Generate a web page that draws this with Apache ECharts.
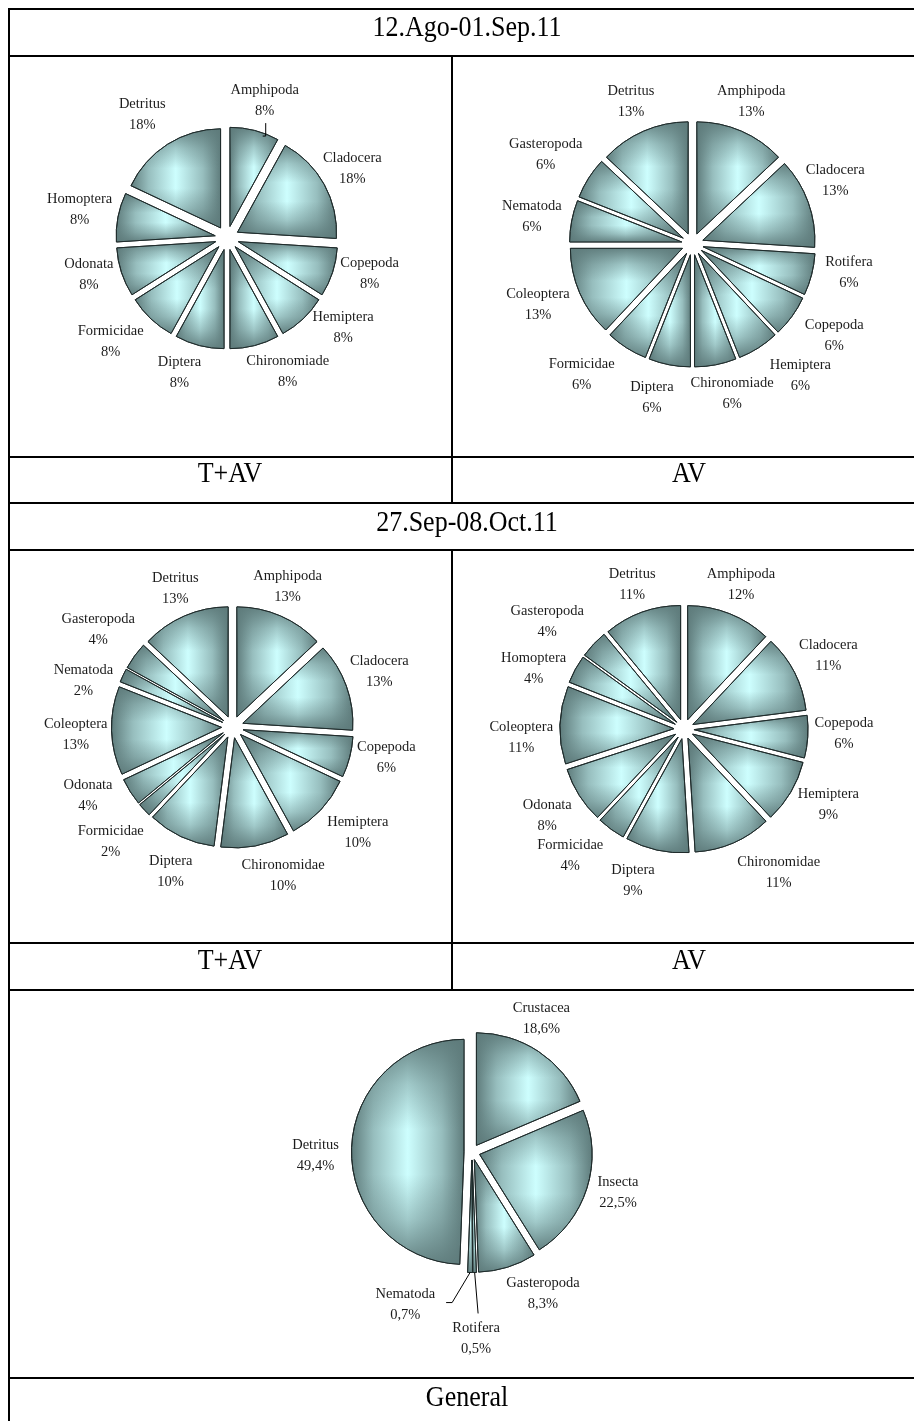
<!DOCTYPE html>
<html>
<head>
<meta charset="utf-8">
<script src="https://cdn.jsdelivr.net/npm/echarts@6/dist/echarts.min.js"></script>
<style>
  html, body { margin: 0; padding: 0; background: #ffffff; }
  #c { width: 914px; height: 1421px; }
</style>
</head>
<body>
<div id="c"></div>
<script>
// ---- Diet composition (%) per sampling period and group ----

// 12.Ago-01.Sep.11, T+AV
const p1TavNames  = ['Amphipoda', 'Cladocera', 'Copepoda', 'Hemiptera', 'Chironomiade', 'Diptera', 'Formicidae', 'Odonata', 'Homoptera', 'Detritus'];
const p1TavValues = [8, 18, 8, 8, 8, 8, 8, 8, 8, 18];

// 12.Ago-01.Sep.11, AV
const p1AvNames  = ['Amphipoda', 'Cladocera', 'Rotifera', 'Copepoda', 'Hemiptera', 'Chironomiade', 'Diptera', 'Formicidae', 'Coleoptera', 'Nematoda', 'Gasteropoda', 'Detritus'];
const p1AvValues = [13, 13, 6, 6, 6, 6, 6, 6, 13, 6, 6, 13];

// 27.Sep-08.Oct.11, T+AV
const p2TavNames  = ['Amphipoda', 'Cladocera', 'Copepoda', 'Hemiptera', 'Chironomidae', 'Diptera', 'Formicidae', 'Odonata', 'Coleoptera', 'Nematoda', 'Gasteropoda', 'Detritus'];
const p2TavValues = [13, 13, 6, 10, 10, 10, 2, 4, 13, 2, 4, 13];

// 27.Sep-08.Oct.11, AV
const p2AvNames  = ['Amphipoda', 'Cladocera', 'Copepoda', 'Hemiptera', 'Chironomidae', 'Diptera', 'Formicidae', 'Odonata', 'Coleoptera', 'Homoptera', 'Gasteropoda', 'Detritus'];
const p2AvValues = [12, 11, 6, 9, 11, 9, 4, 8, 11, 4, 4, 11];

// General
const generalNames  = ['Crustacea', 'Insecta', 'Gasteropoda', 'Rotifera', 'Nematoda', 'Detritus'];
const generalValues = [18.6, 22.5, 8.3, 0.5, 0.7, 49.4];

// Table captions
const periodTitles = ['12.Ago-01.Sep.11', '27.Sep-08.Oct.11'];
const groupTitles  = ['T+AV', 'AV'];
const generalTitle = 'General';

// ---- Styling ----
const SERIF = '"Liberation Serif", "Times New Roman", serif';
const EDGE = '#1f2b2b';
const DARK = '#5e7b7b';
const LIGHT = '#cdfefe';

// Each slice: bright cyan core fading to grey-teal at the edges of its box.
const fillH = new echarts.graphic.LinearGradient(0, 0, 1, 0, [
  { offset: 0, color: DARK },
  { offset: 0.2, color: '#97bebe' },
  { offset: 0.5, color: LIGHT },
  { offset: 0.8, color: '#97bebe' },
  { offset: 1, color: DARK }
]);
const fillV = new echarts.graphic.LinearGradient(0, 0, 0, 1, [
  { offset: 0, color: 'rgba(94,123,123,0.95)' },
  { offset: 0.2, color: 'rgba(94,123,123,0.4)' },
  { offset: 0.4, color: 'rgba(94,123,123,0)' },
  { offset: 0.6, color: 'rgba(94,123,123,0)' },
  { offset: 0.8, color: 'rgba(94,123,123,0.4)' },
  { offset: 1, color: 'rgba(94,123,123,0.95)' }
]);

function fmtPct(v, dec) {
  return v.toFixed(dec).replace('.', ',') + '%';
}

// Mid angle of every slice, degrees clockwise from 12 o'clock
function midAngles(values) {
  const total = values.reduce((a, b) => a + b, 0);
  let acc = 0;
  return values.map(v => {
    const m = (acc + v / 2) / total * 360;
    acc += v;
    return m;
  });
}

// One exploded pie = two shaded layers (horizontal + vertical shading, both
// pulled out from the centre) and a transparent, unexploded layer carrying the labels.
function makePie(names, values, geo, dec, nudges) {
  const mids = midAngles(values);
  const common = {
    type: 'pie',
    center: geo.center,
    radius: geo.r,
    startAngle: 90,
    clockwise: true,
    minAngle: 0,
    avoidLabelOverlap: false,
    animation: false,
    emphasis: { disabled: true },
    tooltip: { show: false }
  };
  const exploded = {
    selectedMode: 'multiple',
    selectedOffset: geo.offset,
    label: { show: false },
    labelLine: { show: false }
  };
  const shadeH = Object.assign({}, common, exploded, {
    z: 2,
    itemStyle: { color: fillH, borderColor: EDGE, borderWidth: 1 },
    select: { itemStyle: { color: fillH, borderColor: EDGE, borderWidth: 1 } },
    data: names.map((n, i) => ({ name: n, value: values[i], selected: true }))
  });
  const shadeV = Object.assign({}, common, exploded, {
    z: 3,
    itemStyle: { color: fillV, borderColor: EDGE, borderWidth: 1 },
    select: { itemStyle: { color: fillV, borderColor: EDGE, borderWidth: 1 } },
    data: names.map((n, i) => ({ name: n, value: values[i], selected: true }))
  });
  const labels = Object.assign({}, common, {
    z: 4,
    selectedMode: false,
    itemStyle: { color: 'rgba(0,0,0,0)', borderWidth: 0 },
    label: {
      show: true,
      position: 'outside',
      fontFamily: SERIF,
      fontSize: 14.5,
      lineHeight: 21,
      color: '#1c1c1c',
      align: 'center',
      formatter: p => p.name + '\n' + fmtPct(p.value, dec)
    },
    labelLine: { show: false, length: 6, length2: 6, lineStyle: { color: '#000', width: 1 } },
    labelLayout: function (p) {
      const i = p.dataIndex;
      const t = nudges[names[i]] || {};
      const cx = geo.center[0], cy = geo.center[1];
      const ang = (mids[i] + (t.da || 0)) * Math.PI / 180;
      const dist = geo.r + geo.offset + geo.gap + (t.dr || 0);
      const x = cx + dist * Math.sin(ang);
      const y = cy - dist * Math.cos(ang);
      const out = { x: x, y: y, align: 'center', verticalAlign: 'middle' };
      if (t.lead) {
        const a0 = mids[i] * Math.PI / 180;
        const re = geo.r + geo.offset;
        const sx = cx + re * Math.sin(a0);
        const sy = cy - re * Math.cos(a0);
        const w = p.labelRect.width;
        const h = p.labelRect.height;
        if (t.lead === 'side') {
          // leader enters from the right of the label
          const ex = x + w / 2 + 11;
          const ey = y - 2;
          out.labelLinePoints = [[sx, sy], [ex + 6, ey], [ex, ey]];
        } else if (t.lead === 'top') {
          // leader enters from above the label
          const ex = x + 2;
          const ey = y - h / 2 - 4;
          out.labelLinePoints = [[sx, sy], [ex, ey], [ex, ey]];
        } else {
          // short tick dropping from the label onto the slice's rim
          const ox = geo.offset * Math.sin(a0);
          const oy = -geo.offset * Math.cos(a0);
          const lx = x + 1;
          const dxh = lx - (cx + ox);
          const ey = cy + oy - Math.sqrt(Math.max(0, geo.r * geo.r - dxh * dxh)) + 2;
          const top = y + h / 2 + 1;
          out.labelLinePoints = [[lx - 3, ey], [lx, ey], [lx, top]];
        }
      }
      return out;
    },
    data: names.map((n, i) => {
      const item = { name: n, value: values[i] };
      if (nudges[n] && nudges[n].lead) item.labelLine = { show: true };
      return item;
    })
  });
  return [shadeH, shadeV, labels];
}

// Label placement adjustments (degrees / pixels) per slice
const p1TavNudge = {
  Amphipoda: { da: 1, dr: -5, lead: 'below' }, Cladocera: { dr: -4 }, Copepoda: { da: -4 },
  Hemiptera: { da: -9 }, Chironomiade: { da: -10 }, Diptera: { da: 5, dr: -4 },
  Formicidae: { da: 5, dr: 9 }, Odonata: { da: 3, dr: -4 }, Homoptera: { dr: 3 },
  Detritus: { da: -2, dr: 3 }
};
const p1AvNudge = {
  Detritus: { dr: -4 }, Amphipoda: { da: -1, dr: -5 }, Cladocera: { da: -4, dr: -3 },
  Rotifera: { da: -4 }, Copepoda: { da: -3, dr: 10 }, Hemiptera: { da: -7, dr: 11 },
  Chironomiade: { da: -4, dr: -4 }, Diptera: { da: 4 }, Formicidae: { da: 8, dr: 12 },
  Coleoptera: { da: 2, dr: 7 }, Nematoda: { da: -1, dr: 4 }, Gasteropoda: { da: -1, dr: 13 }
};
const p2TavNudge = {
  Detritus: { da: 1, dr: -7 }, Amphipoda: { da: -2, dr: -6 }, Cladocera: { da: -1 },
  Copepoda: { da: -3 }, Hemiptera: { da: -3, dr: 7 }, Chironomidae: { da: -8 },
  Diptera: { da: -2 }, Formicidae: { dr: 10 }, Odonata: { da: 7, dr: 3 },
  Coleoptera: { da: -1 }, Nematoda: { da: -8, dr: -1 }, Gasteropoda: { dr: 9 }
};
const p2AvNudge = {
  Detritus: { dr: -7 }, Amphipoda: { dr: -5 }, Cladocera: { dr: 2 }, Copepoda: { da: -2 },
  Hemiptera: { da: -3, dr: 3 }, Chironomidae: { da: -10, dr: 12 }, Diptera: { da: 6 },
  Formicidae: { da: 6, dr: 10 }, Odonata: { dr: 2 }, Coleoptera: { da: -5, dr: 3 },
  Homoptera: { da: -7, dr: 2 }, Gasteropoda: { da: -5, dr: 14 }
};
const generalNudge = {
  Crustacea: { da: -6, dr: -6 }, Insecta: { da: -2, dr: -5 }, Gasteropoda: { da: -9.5, dr: 2 },
  Rotifera: { dr: 30, lead: 'top' }, Nematoda: { da: 22.7, dr: 10, lead: 'side' },
  Detritus: { da: -2.5 }
};

const series = [].concat(
  makePie(p1TavNames, p1TavValues, { center: [227, 238], r: 99, offset: 12, gap: 36 }, 0, p1TavNudge),
  makePie(p1AvNames, p1AvValues, { center: [692.5, 244], r: 112, offset: 11, gap: 36 }, 0, p1AvNudge),
  makePie(p2TavNames, p2TavValues, { center: [232.5, 727], r: 110, offset: 11, gap: 36 }, 0, p2TavNudge),
  makePie(p2AvNames, p2AvValues, { center: [684, 729], r: 114, offset: 10, gap: 36 }, 0, p2AvNudge),
  makePie(generalNames, generalValues, { center: [472, 1152], r: 112.5, offset: 8, gap: 36 }, 1, generalNudge)
);

// ---- Table frame ----
const RIGHT = 914;
const hRules = [9, 56, 457, 503, 550, 943, 990, 1378];
const graphics = [];
hRules.forEach(y => graphics.push({
  type: 'line', silent: true, z: 10,
  shape: { x1: 8, y1: y, x2: RIGHT, y2: y },
  style: { stroke: '#000', lineWidth: 2 }
}));
graphics.push({ type: 'line', silent: true, z: 10, shape: { x1: 9, y1: 8, x2: 9, y2: 1421 }, style: { stroke: '#000', lineWidth: 2 } });
[[56, 503], [550, 990]].forEach(([a, b]) => graphics.push({
  type: 'line', silent: true, z: 10,
  shape: { x1: 452, y1: a, x2: 452, y2: b },
  style: { stroke: '#000', lineWidth: 2 }
}));

// Captions: Times-like face, slightly tall-set
function caption(text, x, y) {
  return {
    type: 'text', silent: true, z: 10, x: x, y: y, scaleY: 1.12,
    style: { text: text, font: '26px ' + SERIF, fill: '#000', align: 'center', verticalAlign: 'middle' }
  };
}
graphics.push(caption(periodTitles[0], 467, 28));
graphics.push(caption(groupTitles[0], 230, 474));
graphics.push(caption(groupTitles[1], 689, 474));
graphics.push(caption(periodTitles[1], 467, 523));
graphics.push(caption(groupTitles[0], 230, 961));
graphics.push(caption(groupTitles[1], 689, 961));
graphics.push(caption(generalTitle, 467, 1398));

const chart = echarts.init(document.getElementById('c'), null, { renderer: 'canvas', width: 914, height: 1421 });
chart.setOption({
  backgroundColor: '#ffffff',
  animation: false,
  series: series,
  graphic: graphics
});
</script>
</body>
</html>
